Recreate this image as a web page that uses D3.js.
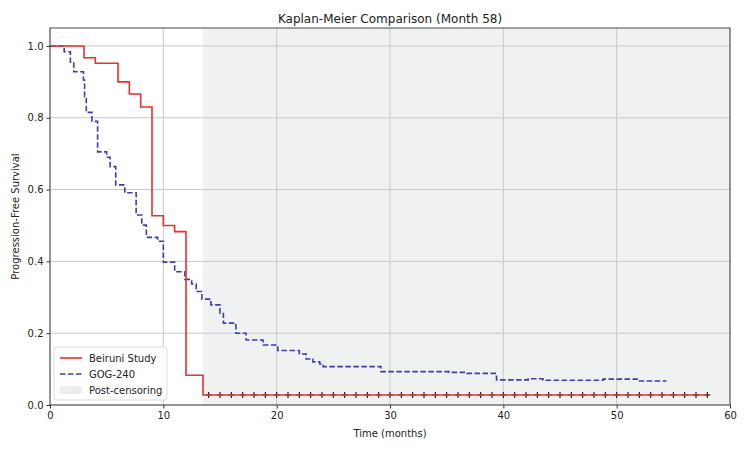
<!DOCTYPE html>
<html>
<head>
<meta charset="utf-8">
<script src="https://cdn.jsdelivr.net/npm/d3@7"></script>
<style>
  html, body { margin: 0; padding: 0; background: #ffffff; }
  svg { display: block; font-family: "DejaVu Sans", sans-serif; }
</style>
</head>
<body>
<svg id="chart" width="748" height="449"></svg>
<script>
// ---- Data ----
const chartTitle = "Kaplan-Meier Comparison (Month 58)";
const xLabel = "Time (months)";
const yLabel = "Progression-Free Survival";
const xTicks = [0, 10, 20, 30, 40, 50, 60];
const yTicks = [0.0, 0.2, 0.4, 0.6, 0.8, 1.0];
const seriesNames = ["Beiruni Study", "GOG-240", "Post-censoring"];

// Beiruni Study: [time, survival] step starts
const beiruniTimes = [0, 3, 4, 6, 7, 8, 9, 10, 11, 12, 13.5, 58];
const beiruniSurv  = [1.0, 0.967, 0.952, 0.9, 0.866, 0.83, 0.527, 0.5, 0.483, 0.083, 0.028, 0.028];

// GOG-240
const gogTimes = [0, 1.25, 1.8, 2.1, 2.95, 3.05, 3.2, 3.7, 4.2, 5.0, 5.3, 5.8, 6.6, 7.6, 8.1, 8.5, 9.5, 10.0,
  11.0, 11.9, 12.5, 12.9, 13.4, 14.2, 15.0, 15.3, 16.4, 17.3, 18.8, 20.1, 22.0, 22.6, 23.2, 23.8, 24.1,
  29.2, 35.2, 36.8, 39.4, 42.2, 43.5, 48.8, 51.8, 54.4];
const gogSurv = [1.0, 0.984, 0.955, 0.928, 0.905, 0.859, 0.815, 0.79, 0.705, 0.69, 0.664, 0.613, 0.591, 0.529, 0.501, 0.467, 0.456, 0.398,
  0.371, 0.35, 0.337, 0.316, 0.295, 0.279, 0.255, 0.228, 0.2, 0.181, 0.167, 0.152, 0.142, 0.128, 0.12, 0.114, 0.107,
  0.093, 0.091, 0.088, 0.07, 0.073, 0.069, 0.072, 0.067, 0.067];

// censor marks on Beiruni curve
const censorTimes = d3.range(14, 59, 1);
const censorLevel = 0.028;

// post-censoring shaded region
const shadeStart = 13.5;
const shadeEnd = 60;

// ---- Layout ----
const svg = d3.select("#chart");
const W = 748, H = 449;
const m = { left: 50, right: 730, top: 28, bottom: 405 };

const x = d3.scaleLinear().domain([0, 60]).range([m.left, m.right]);
const y = d3.scaleLinear().domain([0, 1.05]).range([m.bottom, m.top]);

svg.append("rect").attr("width", W).attr("height", H).attr("fill", "#ffffff");

// shaded region
svg.append("rect")
  .attr("x", x(shadeStart)).attr("y", m.top)
  .attr("width", x(shadeEnd) - x(shadeStart))
  .attr("height", m.bottom - m.top)
  .attr("fill", "#f0f2f2");

// grid
const grid = svg.append("g");
grid.selectAll(".gx").data(xTicks).enter().append("line")
  .attr("x1", d => x(d)).attr("x2", d => x(d))
  .attr("y1", m.top).attr("y2", m.bottom)
  .attr("stroke", "#c8c8c8").attr("stroke-width", 1);
grid.selectAll(".gy").data(yTicks).enter().append("line")
  .attr("x1", m.left).attr("x2", m.right)
  .attr("y1", d => y(d)).attr("y2", d => y(d))
  .attr("stroke", "#c8c8c8").attr("stroke-width", 1);

// step lines
const line = d3.line().x(d => x(d[0])).y(d => y(d[1])).curve(d3.curveStepAfter);
const beiruni = beiruniTimes.map((t, i) => [t, beiruniSurv[i]]);
const gog = gogTimes.map((t, i) => [t, gogSurv[i]]);

svg.append("path").datum(gog).attr("d", line)
  .attr("fill", "none").attr("stroke", "#3a3db4").attr("stroke-width", 1.6)
  .attr("stroke-dasharray", "5.5,2.5");

// censor marks
const cm = svg.append("g");
censorTimes.forEach(t => {
  const cx = x(t), cy = y(censorLevel);
  cm.append("line").attr("x1", cx).attr("x2", cx).attr("y1", cy - 3).attr("y2", cy + 3)
    .attr("stroke", "#111").attr("stroke-width", 1.1);
  cm.append("line").attr("x1", cx - 3).attr("x2", cx + 3).attr("y1", cy).attr("y2", cy)
    .attr("stroke", "#111").attr("stroke-width", 1.1);
});

svg.append("path").datum(beiruni).attr("d", line)
  .attr("fill", "none").attr("stroke", "#e8302e").attr("stroke-width", 1.6);

// spines
svg.append("rect").attr("x", m.left).attr("y", m.top)
  .attr("width", m.right - m.left).attr("height", m.bottom - m.top)
  .attr("fill", "none").attr("stroke", "#333").attr("stroke-width", 0.9);

// axes
const xAxis = d3.axisBottom(x).tickValues(xTicks).tickSize(3.5).tickPadding(3).tickFormat(d3.format("d"));
const yAxis = d3.axisLeft(y).tickValues(yTicks).tickSize(3.5).tickPadding(3).tickFormat(d3.format(".1f"));

const gx = svg.append("g").attr("transform", `translate(0,${m.bottom})`).call(xAxis);
const gy = svg.append("g").attr("transform", `translate(${m.left},0)`).call(yAxis);
[gx, gy].forEach(g => {
  g.select(".domain").remove();
  g.selectAll("line").attr("stroke", "#333");
  g.selectAll("text").attr("fill", "#222").style("font-size", "10px").style("font-family", "DejaVu Sans");
});

// labels
svg.append("text").attr("x", (m.left + m.right) / 2).attr("y", 23)
  .attr("text-anchor", "middle").style("font-size", "12px").attr("fill", "#222").text(chartTitle);
svg.append("text").attr("x", (m.left + m.right) / 2).attr("y", 437)
  .attr("text-anchor", "middle").style("font-size", "10px").attr("fill", "#222").text(xLabel);
svg.append("text").attr("transform", `translate(19,${(m.top + m.bottom) / 2}) rotate(-90)`)
  .attr("text-anchor", "middle").style("font-size", "10px").attr("fill", "#222").text(yLabel);

// legend
const lg = svg.append("g").attr("transform", "translate(54,347)");
lg.append("rect").attr("width", 113).attr("height", 53).attr("rx", 2.5)
  .attr("fill", "#ffffff").attr("fill-opacity", 0.85).attr("stroke", "#d0d0d0").attr("stroke-width", 0.8);
const rows = [
  { name: seriesNames[0], type: "line", color: "#e8302e", dash: null },
  { name: seriesNames[1], type: "line", color: "#3a3db4", dash: "5.5,2.5" },
  { name: seriesNames[2], type: "patch", color: "#eceeee" }
];
rows.forEach((r, i) => {
  const cy = 11 + i * 16;
  if (r.type === "line") {
    lg.append("line").attr("x1", 6).attr("x2", 28).attr("y1", cy).attr("y2", cy)
      .attr("stroke", r.color).attr("stroke-width", 1.6)
      .attr("stroke-dasharray", r.dash);
  } else {
    lg.append("rect").attr("x", 6).attr("y", cy - 4).attr("width", 22).attr("height", 8)
      .attr("fill", r.color);
  }
  lg.append("text").attr("x", 35).attr("y", cy + 3.5).style("font-size", "10px")
    .attr("fill", "#222").text(r.name);
});
</script>
</body>
</html>
